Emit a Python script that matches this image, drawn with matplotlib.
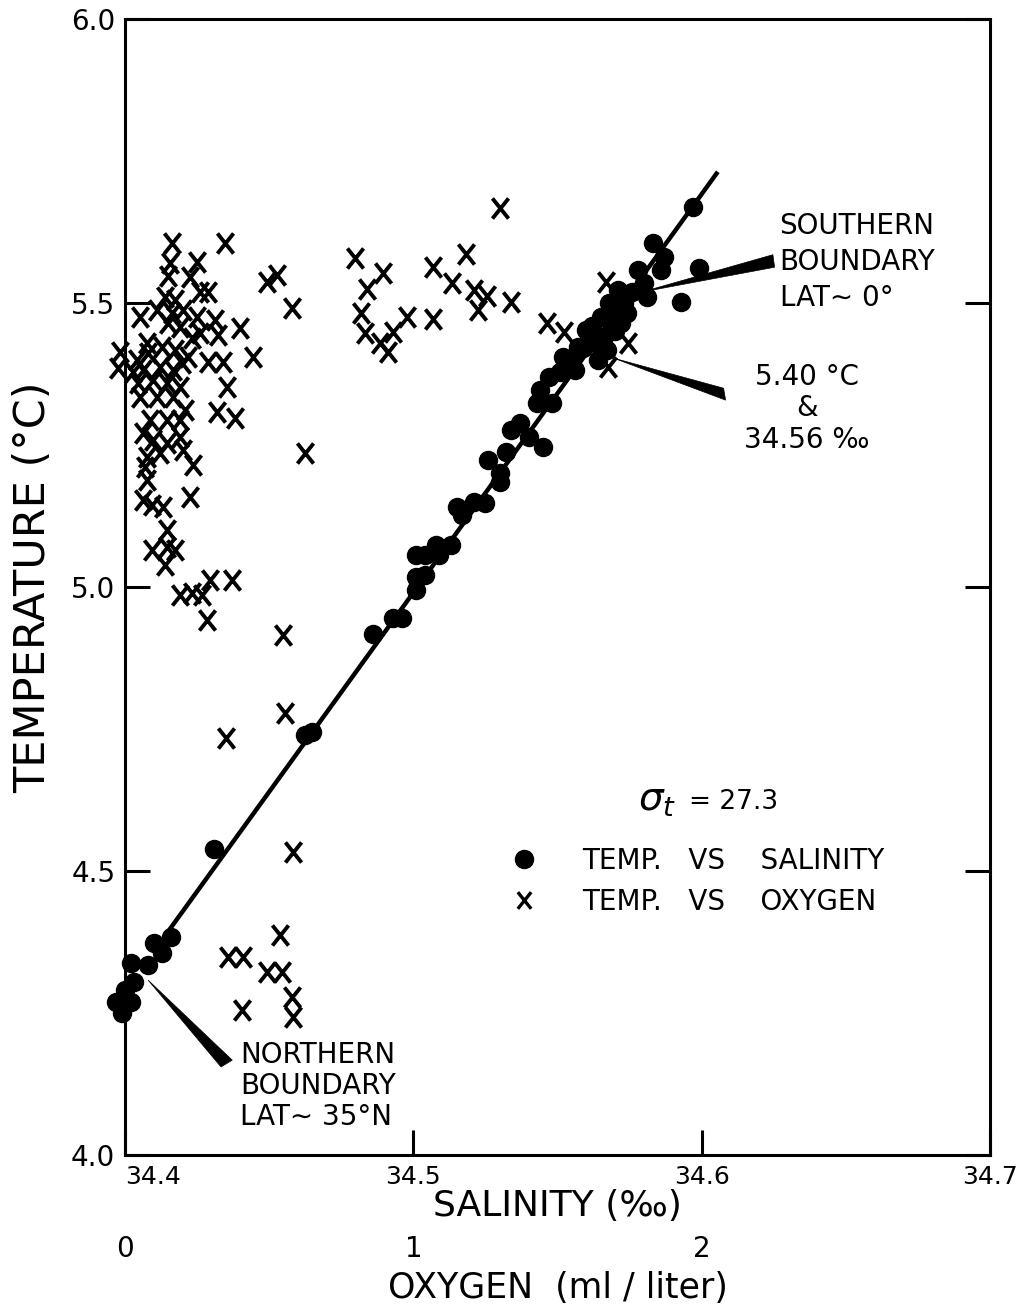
import numpy as np
import matplotlib.pyplot as plt
from matplotlib.path import Path
from matplotlib.lines import Line2D

# Temperature vs salinity (dots)
sal_s = [34.397, 34.399, 34.402, 34.400, 34.403, 34.402, 34.408, 34.410, 34.413, 34.416, 34.431,
         34.4625, 34.465, 34.486, 34.493, 34.496, 34.501, 34.501, 34.504, 34.501, 34.504,
         34.508, 34.509, 34.513, 34.515, 34.517, 34.521, 34.525, 34.530,
         34.526, 34.530, 34.532, 34.534, 34.537, 34.540, 34.545, 34.543, 34.544, 34.548,
         34.551, 34.552, 34.556, 34.557, 34.560, 34.563, 34.565, 34.567, 34.568, 34.571,
         34.572, 34.574, 34.578, 34.580, 34.581, 34.583, 34.586, 34.587, 34.593, 34.597, 34.599,
         34.547, 34.555, 34.559, 34.562, 34.566, 34.569, 34.573, 34.576, 34.570, 34.564]
sal_t = [4.269, 4.250, 4.269, 4.290, 4.305, 4.338, 4.335, 4.373, 4.356, 4.384, 4.539,
         4.739, 4.745, 4.917, 4.945, 4.945, 4.995, 5.018, 5.021, 5.056, 5.056,
         5.074, 5.056, 5.074, 5.141, 5.127, 5.150, 5.148, 5.185,
         5.224, 5.201, 5.238, 5.276, 5.289, 5.264, 5.246, 5.324, 5.347, 5.324,
         5.379, 5.405, 5.382, 5.423, 5.452, 5.430, 5.475, 5.417, 5.500, 5.523,
         5.465, 5.482, 5.558, 5.535, 5.511, 5.606, 5.558, 5.581, 5.502, 5.669, 5.562,
         5.370, 5.400, 5.420, 5.460, 5.440, 5.470, 5.500, 5.520, 5.450, 5.400]

# Temperature vs oxygen (crosses), oxygen in ml/liter
oxy_o = [0.799, 0.896, 0.840, 0.819, 0.833, 0.885, 0.913, 0.931, 0.979, 1.069, 1.069,
         1.135, 1.184, 1.212, 1.257, 1.226, 1.337, 1.302, 1.462, 1.521, 1.667, 1.743, 1.674,
         0.493, 0.528, 0.580, 0.444, 0.625, 0.347, 0.549, 0.556, 0.351,
         0.583, 0.538, 0.358, 0.410, 0.493, 0.545, 0.580, 0.406, 0.583,
         0.163, 0.156, 0.250, 0.149, 0.226, 0.139, 0.174, 0.260, 0.288, 0.052,
         0.111, 0.163, 0.201, 0.149, 0.191, 0.250, 0.313, 0.323, 0.399, 0.260,
         0.233, 0.076, 0.042, 0.080, 0.128, 0.174, 0.219, 0.028, 0.063, 0.122,
         0.167, 0.198, 0.288, 0.340, 0.045, 0.097, 0.146, 0.191, 0.354, 0.052,
         0.111, 0.167, -0.017, -0.024, 0.208, 0.087, 0.146, 0.191, 0.319, 0.382,
         0.063, 0.097, 0.146, 0.191, 0.201, 0.076, 0.122, 0.069, 0.236, 0.076,
         0.226, 0.063, 0.094, 0.132, 0.146, 0.094, 0.146, 0.174, 0.139, 0.191,
         0.233, 0.267, 0.295, 0.372, 0.285]
oxy_t = [5.579, 5.553, 5.525, 5.482, 5.447, 5.430, 5.414, 5.449, 5.475, 5.472, 5.563,
         5.535, 5.586, 5.523, 5.512, 5.488, 5.502, 5.667, 5.465, 5.449, 5.537, 5.430, 5.387,
         5.537, 5.549, 5.491, 5.405, 5.236, 5.606, 4.915, 4.778, 4.734,
         4.533, 4.387, 4.349, 4.349, 4.322, 4.322, 4.278, 4.255, 4.243,
         5.606, 5.570, 5.572, 5.548, 5.546, 5.511, 5.505, 5.519, 5.519, 5.475,
         5.488, 5.482, 5.488, 5.465, 5.458, 5.475, 5.470, 5.444, 5.456, 5.447,
         5.438, 5.430, 5.400, 5.412, 5.423, 5.417, 5.405, 5.379, 5.382, 5.387,
         5.382, 5.394, 5.396, 5.396, 5.359, 5.364, 5.359, 5.352, 5.352, 5.335,
         5.335, 5.335, 5.414, 5.386, 5.312, 5.294, 5.294, 5.294, 5.308, 5.298,
         5.271, 5.259, 5.254, 5.264, 5.241, 5.229, 5.236, 5.211, 5.215, 5.188,
         5.158, 5.153, 5.144, 5.141, 5.100, 5.065, 5.070, 5.065, 5.039, 4.986,
         4.989, 4.986, 5.012, 5.012, 4.942]

# fitted T-S line
line_s = [34.4146, 34.6056]
line_t = [4.391, 5.731]

# pointer wedges (salinity, temperature)
south_ptr = [(34.5790, 5.519), (34.6247, 5.585), (34.6253, 5.563)]
mid_ptr = [(34.5694, 5.403), (34.6076, 5.350), (34.6083, 5.329)]
north_ptr = [(34.408, 4.308), (34.4333, 4.155), (34.4372, 4.167)]

sal_ticks = [34.4, 34.5, 34.6, 34.7]
temp_ticks = [4.0, 4.5, 5.0, 5.5, 6.0]
oxy_ticks = [0, 1, 2]


def o2s(o):
    return 34.4 + np.asarray(o) / 10.0


def s2o(s):
    return (np.asarray(s) - 34.4) * 10.0


cross = Path([(-0.8, -1), (0.8, 1), (-0.8, 1), (0.8, -1)],
             [Path.MOVETO, Path.LINETO, Path.MOVETO, Path.LINETO])

fig = plt.figure(figsize=(10.28, 13.07), dpi=100)
ax = fig.add_axes([125 / 1028, 1 - 1155 / 1307, 865 / 1028, 1136 / 1307])
ax.set_xlim(34.4, 34.7)
ax.set_ylim(4.0, 6.0)

ax.plot(line_s, line_t, color='black', lw=3.2, solid_capstyle='butt')
ax.plot(sal_s, sal_t, 'o', color='black', ms=13, clip_on=False)
ax.plot(o2s(oxy_o), oxy_t, linestyle='none', marker=cross, ms=14.5,
        mec='black', mew=2.8, mfc='none', clip_on=False)

for ptr in (south_ptr, mid_ptr, north_ptr):
    xs, ys = zip(*ptr)
    ax.fill(xs, ys, color='black', lw=0.5)

# annotations
ax.text(34.627, 5.572, 'SOUTHERN\nBOUNDARY\nLAT\u223c 0\u00b0', ha='left', va='center',
        fontsize=20, linespacing=1.38)
ax.text(34.6365, 5.315, '5.40 \u00b0C\n&\n34.56 \u2030', ha='center', va='center',
        fontsize=20, linespacing=1.16, multialignment='center')
ax.text(34.440, 4.122, 'NORTHERN\nBOUNDARY\nLAT\u223c 35\u00b0N', ha='left', va='center',
        fontsize=20, linespacing=1.14)
ax.text(34.5778, 4.625, r'$\sigma_t$', ha='left', va='center', fontsize=28)
ax.text(34.5955, 4.622, '= 27.3', ha='left', va='center', fontsize=19)

handles = [Line2D([], [], ls='none', marker='o', color='black', ms=13),
           Line2D([], [], ls='none', marker=cross, mec='black', mfc='none', ms=12, mew=2.4)]
ax.legend(handles, ['TEMP.   VS    SALINITY', 'TEMP.   VS    OXYGEN'],
          loc='upper left', bbox_to_anchor=(0.445, 0.271), frameon=False,
          fontsize=20, handlelength=1.0, handletextpad=1.6, labelspacing=0.45,
          borderpad=0, borderaxespad=0)

# axes styling
for sp in ax.spines.values():
    sp.set_linewidth(2.2)
ax.set_xticks(sal_ticks)
ax.set_xticklabels([f'{v:.1f}' for v in sal_ticks])
ax.set_yticks(temp_ticks)
ax.set_yticklabels([f'{v:.1f}' for v in temp_ticks])
ax.tick_params(direction='in', length=18, width=2.2, labelsize=20, pad=7,
               right=True, top=False)
ax.tick_params(axis='x', labelsize=18)
ax.get_xticklabels()[0].set_horizontalalignment('left')

ax.set_ylabel('TEMPERATURE (\u00b0C)', fontsize=31, labelpad=12)
ax.set_xlabel('SALINITY (\u2030)', fontsize=26, labelpad=0)

sec = ax.secondary_xaxis(-0.068, functions=(s2o, o2s))
sec.set_xticks(oxy_ticks)
sec.set_xticklabels([str(v) for v in oxy_ticks])
sec.tick_params(length=0, labelsize=20, pad=2)
sec.spines['bottom'].set_visible(False)
sec.set_xlabel('OXYGEN  (ml / liter)', fontsize=25, labelpad=6)

fig.savefig('out.png', dpi=100)
